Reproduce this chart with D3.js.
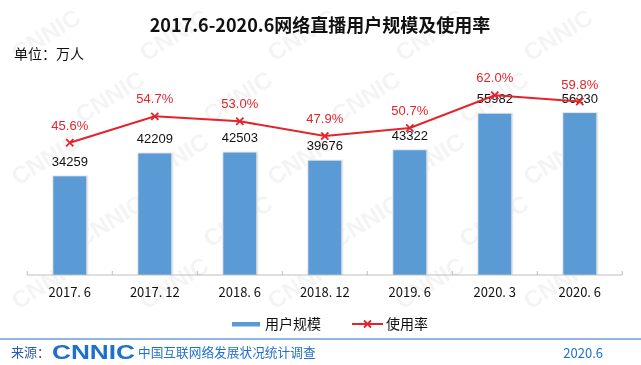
<!DOCTYPE html>
<html><head><meta charset="utf-8">
<script src="https://cdn.jsdelivr.net/npm/d3@7"></script>
<style>html,body{margin:0;padding:0;background:#fff;}svg{display:block;}</style>
</head><body>
<script>
const categories = ["2017. 6","2017. 12","2018. 6","2018. 12","2019. 6","2020. 3","2020. 6"];
const users = [34259, 42209, 42503, 39676, 43322, 55982, 56230];
const rates = [45.6, 54.7, 53.0, 47.9, 50.7, 62.0, 59.8];
const title = "2017.6-2020.6网络直播用户规模及使用率";
const unitLabel = "单位：万人";
const legendLabels = ["用户规模", "使用率"];
const sourceText = "中国互联网络发展状况统计调查";
const dateText = "2020.6";

const W = 641, H = 365;
const blue = "#5b9bd5", red = "#e3242b", srcBlue = "#1f70cc";
const cjk = "'Noto Sans CJK SC', 'Noto Sans', sans-serif";
const latin = "'Liberation Sans', Arial, sans-serif";

const svg = d3.select("body").append("svg").attr("width", W).attr("height", H);
svg.append("rect").attr("width", W).attr("height", H).attr("fill", "#fff");

// watermark (kept fully inside the picture)
const wm = svg.append("g").attr("opacity", 0.045);
for (let r = 0; r < 6; r++) {
  for (let c = 0; c < 6; c++) {
    const x = c * 128 + (r % 2) * 64 + 18;
    const y = r * 62 + 62;
    if (x + 84 > W - 4 || y - 58 < 2 || y + 4 > H - 2) continue;
    wm.append("text").attr("transform", `translate(${x},${y}) rotate(-32)`)
      .attr("font-family", latin).attr("font-weight", "bold").attr("font-size", 24)
      .attr("fill", "#000").text("CNNIC");
  }
}

const x = d3.scaleBand().domain(categories).range([27.3, 622.3]).paddingInner(0.612).paddingOuter(0.306);
const y = d3.scaleLinear().domain([0, 80000]).range([275, 44.6]);
const y2 = d3.scaleLinear().domain([0, 80]).range([275, 43]);

// title
svg.append("text").attr("x", 320).attr("y", 32).attr("text-anchor", "middle")
  .attr("font-family", cjk).attr("font-weight", "bold").attr("font-size", 18).attr("fill", "#111").text(title);
svg.append("text").attr("x", 14).attr("y", 59)
  .attr("font-family", cjk).attr("font-size", 14).attr("fill", "#111").text(unitLabel);

// bars
const bars = svg.append("g");
bars.selectAll("rect.sh").data(users).join("rect").attr("class", "sh")
  .attr("x", (d, i) => x(categories[i]) - 1).attr("y", d => y(d) - 1)
  .attr("width", x.bandwidth() + 3).attr("height", d => y(0) - y(d) + 1).attr("fill", "#e6e6e6");
bars.selectAll("rect.b").data(users).join("rect").attr("class", "b")
  .attr("x", (d, i) => x(categories[i])).attr("y", d => y(d))
  .attr("width", x.bandwidth()).attr("height", d => y(0) - y(d)).attr("fill", blue);

// axis
const axisG = svg.append("g").attr("transform", `translate(0,${y(0)})`);
axisG.append("line").attr("x1", 27.3).attr("x2", 622.3).attr("stroke", "#bfbfbf").attr("stroke-width", 1);
const ticks = [x.range()[0]].concat(categories.map(c => x(c) - x.step() * x.paddingInner() / 2 + x.step()));
axisG.selectAll("line.t").data(ticks).join("line").attr("class", "t")
  .attr("x1", d => d).attr("x2", d => d).attr("y1", -4).attr("y2", 0).attr("stroke", "#bfbfbf");
axisG.selectAll("text").data(categories).join("text")
  .attr("x", d => x(d) + x.bandwidth() / 2).attr("y", 21.5).attr("text-anchor", "middle")
  .attr("font-family", cjk).attr("font-size", 13).attr("fill", "#111").text(d => d);

// bar labels
svg.append("g").selectAll("text").data(users).join("text")
  .attr("x", (d, i) => x(categories[i]) + x.bandwidth() / 2).attr("y", d => y(d) - 10.5)
  .attr("text-anchor", "middle").attr("font-family", latin).attr("font-size", 13).attr("fill", "#111")
  .text(d => d);

// line
const cx = i => x(categories[i]) + x.bandwidth() / 2;
const line = d3.line().x((d, i) => cx(i)).y(d => y2(d));
svg.append("path").datum(rates).attr("d", line).attr("fill", "none").attr("stroke", red).attr("stroke-width", 2);
const mk = svg.append("g");
rates.forEach((d, i) => {
  const px = cx(i), py = y2(d), s = 3.6;
  mk.append("path").attr("d", `M${px - s},${py - s}L${px + s},${py + s}M${px - s},${py + s}L${px + s},${py - s}`)
    .attr("stroke", red).attr("stroke-width", 1.8).attr("fill", "none");
});
svg.append("g").selectAll("text").data(rates).join("text")
  .attr("x", (d, i) => cx(i)).attr("y", d => y2(d) - 13).attr("text-anchor", "middle")
  .attr("font-family", latin).attr("font-size", 13).attr("fill", red).text(d => d.toFixed(1) + "%");

// legend
const lg = svg.append("g");
lg.append("rect").attr("x", 232).attr("y", 322).attr("width", 28).attr("height", 4.5).attr("fill", blue);
lg.append("text").attr("x", 265).attr("y", 329).attr("font-family", cjk).attr("font-size", 14).attr("fill", "#111").text(legendLabels[0]);
lg.append("line").attr("x1", 352).attr("x2", 383).attr("y1", 324).attr("y2", 324).attr("stroke", red).attr("stroke-width", 2);
lg.append("path").attr("d", "M364,320.5L371,327.5M364,327.5L371,320.5").attr("stroke", red).attr("stroke-width", 1.8);
lg.append("text").attr("x", 386).attr("y", 329).attr("font-family", cjk).attr("font-size", 14).attr("fill", "#111").text(legendLabels[1]);

// footer
svg.append("line").attr("x1", 0).attr("x2", W).attr("y1", 339).attr("y2", 339).attr("stroke", "#8fb6e4").attr("stroke-width", 2);
svg.append("text").attr("x", 11).attr("y", 357).attr("font-family", cjk).attr("font-size", 13).attr("fill", "#2a5ca8").text("来源：");
svg.append("text").attr("x", 52).attr("y", 358.5).attr("font-family", latin).attr("font-weight", "bold")
  .attr("font-size", 21).attr("textLength", 83).attr("lengthAdjust", "spacingAndGlyphs").attr("fill", srcBlue).text("CNNIC");
svg.append("text").attr("x", 138).attr("y", 357).attr("font-family", cjk).attr("font-size", 12.7).attr("fill", srcBlue).text(sourceText);
svg.append("text").attr("x", 603).attr("y", 357.5).attr("text-anchor", "end").attr("font-family", cjk).attr("font-size", 13).attr("fill", srcBlue).text(dateText);
</script>
</body></html>
